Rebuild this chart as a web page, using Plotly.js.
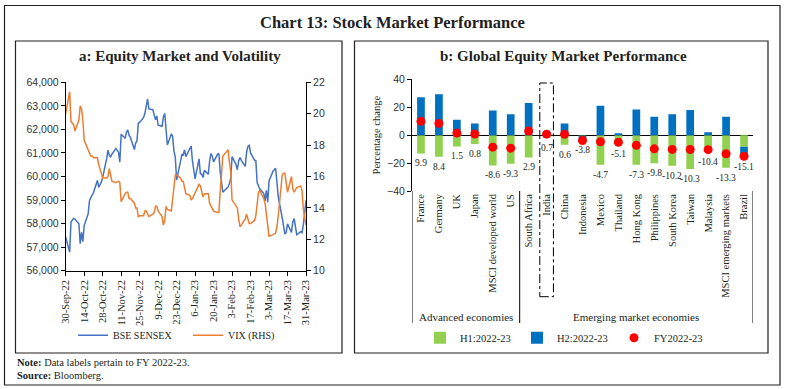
<!DOCTYPE html>
<html><head><meta charset="utf-8">
<script src="https://cdn.plot.ly/plotly-3.0.1.min.js"></script>
<style>html,body{margin:0;padding:0;background:#fff;} #chart{width:785px;height:389px;}</style>
</head><body><div id="chart"></div>
<script>
// ---------- Panel a: equity market and volatility ----------
const dates = ['2022-09-30','2022-10-03','2022-10-04','2022-10-06','2022-10-07','2022-10-10','2022-10-11','2022-10-12','2022-10-13','2022-10-14',
'2022-10-17','2022-10-18','2022-10-19','2022-10-20','2022-10-21','2022-10-24','2022-10-25','2022-10-27','2022-10-28','2022-10-31',
'2022-11-01','2022-11-02','2022-11-03','2022-11-04','2022-11-07','2022-11-09','2022-11-10','2022-11-11','2022-11-14','2022-11-15',
'2022-11-16','2022-11-17','2022-11-18','2022-11-21','2022-11-22','2022-11-23','2022-11-24','2022-11-25','2022-11-28','2022-11-29',
'2022-11-30','2022-12-01','2022-12-02','2022-12-05','2022-12-06','2022-12-07','2022-12-08','2022-12-09','2022-12-12','2022-12-13',
'2022-12-14','2022-12-15','2022-12-16','2022-12-19','2022-12-20','2022-12-21','2022-12-22','2022-12-23','2022-12-26','2022-12-27',
'2022-12-28','2022-12-29','2022-12-30','2023-01-02','2023-01-03','2023-01-04','2023-01-05','2023-01-06','2023-01-09','2023-01-10',
'2023-01-11','2023-01-12','2023-01-13','2023-01-16','2023-01-17','2023-01-18','2023-01-19','2023-01-20','2023-01-23','2023-01-24',
'2023-01-25','2023-01-27','2023-01-30','2023-01-31','2023-02-01','2023-02-02','2023-02-03','2023-02-06','2023-02-07','2023-02-08',
'2023-02-09','2023-02-10','2023-02-13','2023-02-14','2023-02-15','2023-02-16','2023-02-17','2023-02-20','2023-02-21','2023-02-22',
'2023-02-23','2023-02-24','2023-02-27','2023-02-28','2023-03-01','2023-03-02','2023-03-03','2023-03-06','2023-03-08','2023-03-09',
'2023-03-10','2023-03-13','2023-03-14','2023-03-15','2023-03-16','2023-03-17','2023-03-20','2023-03-21','2023-03-22','2023-03-23',
'2023-03-24','2023-03-27','2023-03-28','2023-03-29','2023-03-31'];

const sensex = [57427,56789,58065,58222,58191,57991,57147,57626,57235,57920,
58411,58961,59107,59203,59307,59831,59544,59757,59960,60747,
61121,60906,60837,60950,61185,61033,60614,61795,61624,61873,
61981,61751,61663,61145,61419,61511,62273,62294,62505,62682,
63100,63284,62869,62835,62626,62411,62571,62182,62131,62533,
62678,61799,61338,61806,61703,61067,60827,59845,60566,60928,
60910,61134,60841,61168,61294,60658,60353,59900,60747,60115,
60106,59958,60261,60092,60656,60978,60858,60621,60941,60979,
60205,59331,59500,59550,59708,59932,60842,60507,60286,60664,
60806,60683,60432,61032,61275,61320,61002,60692,60673,59745,
59606,59464,59289,58962,59411,58909,59809,60224,60348,59806,
59135,58238,57900,57556,57635,57990,57629,58075,58215,57925,
57527,57654,57614,57960,58992];

const vix = [20.0,21.4,19.5,19.3,18.9,19.6,20.5,20.3,19.6,18.3,
17.7,17.5,17.3,17.3,17.2,17.2,16.75,16.2,15.9,15.9,
16.0,16.5,16.0,15.7,15.6,15.7,15.6,14.4,14.9,15.0,
15.0,14.6,14.6,14.3,14.0,14.0,13.45,13.5,13.5,13.8,
13.8,13.6,13.45,13.6,13.7,14.1,14.1,13.8,13.45,12.9,
13.2,14.1,13.9,13.8,14.5,15.5,16.1,16.1,15.9,15.7,
15.7,15.3,14.9,14.8,14.5,14.6,14.8,14.9,15.5,15.4,
15.0,14.7,14.9,14.9,14.3,14.1,13.9,13.8,13.7,13.7,
15.0,17.3,17.6,17.7,16.9,16.3,14.5,14.1,14.0,13.3,
12.8,12.9,13.3,13.6,13.3,13.0,13.0,13.2,13.5,14.1,
15.0,15.1,14.6,14.3,13.5,12.9,12.2,12.3,12.4,12.8,
13.5,16.1,16.2,16.2,15.6,15.0,16.0,15.2,15.0,15.2,
15.3,15.4,15.1,13.9,12.9];

const dateTicks = ['2022-09-30','2022-10-14','2022-10-28','2022-11-11','2022-11-25','2022-12-09','2022-12-23',
'2023-01-06','2023-01-20','2023-02-03','2023-02-17','2023-03-03','2023-03-17','2023-03-31'];

// ---------- Panel b: global equity market performance ----------
const countries = ['France','Germany','UK','Japan','MSCI developed world','US','South Africa','India','China','Indonesia',
'Mexico','Thailand','Hong Kong','Philippines','South Korea','Taiwan','Malaysia','MSCI emerging markets','Brazil'];
const h1 = [-13.1,-15.5,-8.1,-6.4,-21.7,-20.5,-16.0,-1.9,-6.9,-0.4,-21.2,-6.3,-21.2,-20.2,-21.9,-24.3,-12.0,-23.3,-8.3];
const h2 = [27.1,29.3,11.0,8.3,17.6,15.0,23.1,2.6,8.3,-3.4,21.0,1.4,18.3,13.1,15.0,18.1,2.1,13.1,-7.4];
const fy = [9.9,8.4,1.5,0.8,-8.6,-9.3,2.9,0.7,0.6,-3.8,-4.7,-5.1,-7.3,-9.8,-10.2,-10.3,-10.4,-13.3,-15.1];
const groupNames = ['Advanced economies','Emerging market economies'];
const groupMembers = [['France','Germany','UK','Japan','MSCI developed world','US'],
['South Africa','India','China','Indonesia','Mexico','Thailand','Hong Kong','Philippines','South Korea','Taiwan','Malaysia','MSCI emerging markets','Brazil']];

// ---------- helpers ----------
const W = 785, H = 389;
const px = x => x / W;
const py = y => 1 - y / H;
const SERIF = 'Liberation Serif, Times New Roman, serif';
const SANS = 'Liberation Sans, Arial, sans-serif';
const INK = '#231f20';

const traces = [
  {type:'scatter', mode:'lines', name:'BSE SENSEX', x:dates, y:sensex, xaxis:'x', yaxis:'y',
   line:{color:'#4472C4', width:1.5}, legend:'legend'},
  {type:'scatter', mode:'lines', name:'VIX (RHS)', x:dates, y:vix, xaxis:'x', yaxis:'y2',
   line:{color:'#ED7D31', width:1.5}, legend:'legend'},
  {type:'bar', name:'H1:2022-23', x:countries, y:h1, xaxis:'x2', yaxis:'y3',
   marker:{color:'#92D050'}, legend:'legend2'},
  {type:'bar', name:'H2:2022-23', x:countries, y:h2, xaxis:'x2', yaxis:'y3',
   marker:{color:'#0070C0'}, legend:'legend2'},
  {type:'scatter', mode:'markers', name:'FY2022-23', x:countries, y:fy, xaxis:'x2', yaxis:'y3',
   marker:{color:'#FF0000', size:9}, legend:'legend2'}
];

// data labels under the lowest point of each column
const labelAnn = countries.map((c, i) => {
  const neg = Math.min(0, h1[i]) + Math.min(0, h2[i]);
  const low = Math.min(neg, fy[i]);
  return {xref:'x2', yref:'y3', x:c, y:low, xanchor:'center', yanchor:'top', yshift:-3, showarrow:false,
          text: fy[i].toFixed(1), font:{family:SERIF, size:9.5, color:INK}};
});

const groupAnn = groupNames.map((g, k) => {
  const idx = groupMembers[k].map(m => countries.indexOf(m));
  const mid = (Math.min(...idx) + Math.max(...idx)) / 2;
  return {xref:'x2', yref:'paper', x:mid, y:py(316.7), xanchor:'center', yanchor:'middle', showarrow:false,
          text:g, font:{family:SERIF, size:11, color:INK}};
});

const sepIdx = [-0.5, countries.indexOf('South Africa') - 0.5, countries.length - 0.5];
const sepShapes = sepIdx.map(v => ({type:'line', xref:'x2', yref:'paper', x0:v, x1:v, y0:py(191), y1:py(323),
  line:{color:'#000', width:1}}));
const iIndia = countries.indexOf('India');

const shapes = [
  {type:'rect', xref:'paper', yref:'paper', x0:px(4.5), x1:px(780), y0:py(385), y1:py(5.5), line:{color:INK, width:1.2}},
  {type:'rect', xref:'paper', yref:'paper', x0:px(15.5), x1:px(342), y0:py(353), y1:py(41), line:{color:INK, width:1.2}},
  {type:'rect', xref:'paper', yref:'paper', x0:px(354.5), x1:px(768), y0:py(353), y1:py(41), line:{color:INK, width:1.2}},
  {type:'rect', xref:'x2', yref:'paper', x0:iIndia - 0.38, x1:iIndia + 0.38, y0:py(296.7), y1:py(83),
   line:{color:'#000', width:1, dash:'dashdot'}},
  ...sepShapes
];

const annotations = [
  {xref:'paper', yref:'paper', x:px(392), y:py(22), xanchor:'center', yanchor:'middle', showarrow:false,
   text:'<b>Chart 13: Stock Market Performance</b>', font:{family:SERIF, size:16.5, color:INK}},
  {xref:'paper', yref:'paper', x:px(180), y:py(56), xanchor:'center', yanchor:'middle', showarrow:false,
   text:'<b>a: Equity Market and Volatility</b>', font:{family:SERIF, size:15, color:INK}},
  {xref:'paper', yref:'paper', x:px(563), y:py(56), xanchor:'center', yanchor:'middle', showarrow:false,
   text:'<b>b: Global Equity Market Performance</b>', font:{family:SERIF, size:15, color:INK}},
  {xref:'paper', yref:'paper', x:px(15), y:py(362), xanchor:'left', yanchor:'middle', showarrow:false,
   text:'<b>Note:</b> Data labels pertain to FY 2022-23.', font:{family:SERIF, size:10.5, color:INK}},
  {xref:'paper', yref:'paper', x:px(15), y:py(375), xanchor:'left', yanchor:'middle', showarrow:false,
   text:'<b>Source:</b> Bloomberg.', font:{family:SERIF, size:10.5, color:INK}},
  ...groupAnn,
  ...labelAnn
];

const axisCommon = {showgrid:false, zeroline:false, showline:true, linecolor:'#000', linewidth:1,
  ticks:'outside', ticklen:4, tickcolor:'#000'};

const layout = {
  width:W, height:H, margin:{l:0, r:0, t:0, b:0}, paper_bgcolor:'#fff', plot_bgcolor:'rgba(0,0,0,0)',
  font:{family:SERIF, size:10.5, color:INK},
  barmode:'relative', bargap:0.57,
  xaxis:Object.assign({}, axisCommon, {type:'date', domain:[px(65.7), px(306)], anchor:'y',
    range:['2022-09-30','2023-03-31'], tickvals:dateTicks, tickformat:'%-d-%b-%y', tickangle:-90,
    tickfont:{family:SERIF, size:10.5, color:INK}}),
  yaxis:Object.assign({}, axisCommon, {domain:[py(270.7), py(82.3)], anchor:'x', range:[56000,64000], dtick:1000,
    tickformat:',d', tickfont:{family:SANS, size:10.5, color:'#333'}}),
  yaxis2:Object.assign({}, axisCommon, {overlaying:'y', side:'right', anchor:'x', range:[10,22], dtick:2,
    tickfont:{family:SANS, size:10.5, color:'#333'}}),
  xaxis2:{domain:[px(412), px(753)], anchor:'y3', type:'category', range:[-0.5, countries.length - 0.5],
    tickangle:-90, ticks:'', showline:false, showgrid:false, zeroline:false,
    tickfont:{family:SERIF, size:10.5, color:INK}},
  yaxis3:Object.assign({}, axisCommon, {domain:[py(191), py(79.3)], anchor:'x2', range:[-40,40], dtick:20,
    zeroline:true, zerolinecolor:'#000', zerolinewidth:1,
    tickfont:{family:SANS, size:10.5, color:'#333'},
    title:{text:'Percentage change', font:{family:SERIF, size:10.5, color:INK}, standoff:4}}),
  showlegend:true,
  legend:{x:px(73), y:py(335.3), xanchor:'left', yanchor:'middle', orientation:'h', bgcolor:'rgba(0,0,0,0)',
    font:{family:SERIF, size:10, color:INK}, entrywidth:70, entrywidthmode:'pixels'},
  legend2:{x:px(420), y:py(337.7), xanchor:'left', yanchor:'middle', orientation:'h', bgcolor:'rgba(0,0,0,0)',
    font:{family:SERIF, size:10.5, color:INK}, entrywidth:52, entrywidthmode:'pixels'},
  shapes:shapes,
  annotations:annotations
};

Plotly.newPlot('chart', traces, layout, {displayModeBar:false, staticPlot:true});
</script>
</body></html>
